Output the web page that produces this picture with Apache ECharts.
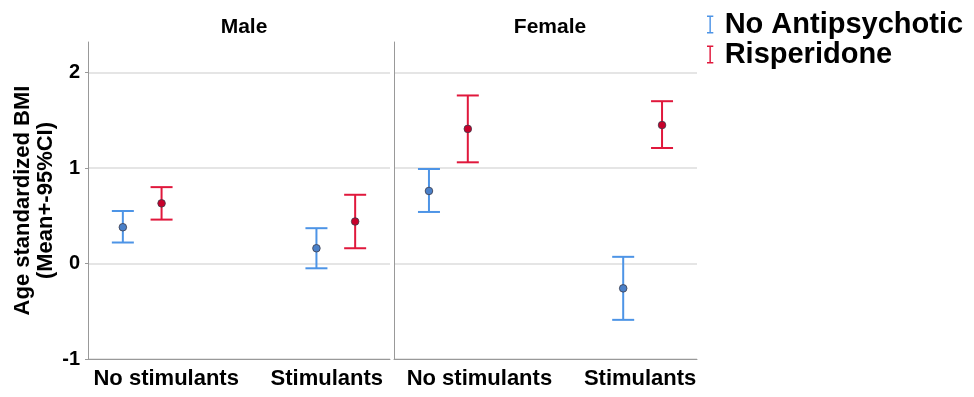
<!DOCTYPE html>
<html>
<head>
<meta charset="utf-8">
<script src="https://cdn.jsdelivr.net/npm/echarts@6/dist/echarts.min.js"></script>
<style>html,body{margin:0;padding:0;background:#fff;}#c{width:974px;height:397px;}</style>
</head>
<body>
<div id="c"></div>
<script>
// ---- data ----
var panels = ['Male', 'Female'];
var categories = ['No stimulants', 'Stimulants'];
var seriesNames = ['No Antipsychotic', 'Risperidone'];
// [mean, lower, upper] per category
var maleNoAnti   = [[0.38, 0.22, 0.55], [0.16, -0.05, 0.37]];
var maleRisp     = [[0.63, 0.46, 0.80], [0.44, 0.16, 0.72]];
var femaleNoAnti = [[0.76, 0.54, 0.99], [-0.26, -0.59, 0.07]];
var femaleRisp   = [[1.41, 1.06, 1.76], [1.45, 1.21, 1.70]];
var yTicks = [-1, 0, 1, 2];

var FONT = 'Liberation Sans, Arial, sans-serif';
var colors = ['#4d94e6', '#e0183c'];
var dotColors = ['#4a80c8', '#c8002a'];
var offset = [-0.1, 0.1];

function toData(arr, si) {
  return arr.map(function (d, i) { return [i + offset[si], d[0], d[1], d[2]]; });
}

function renderItem(si) {
  return function (params, api) {
    var x = api.value(0);
    var m = api.coord([x, api.value(1)]);
    var lo = api.coord([x, api.value(2)]);
    var hi = api.coord([x, api.value(3)]);
    var c = colors[si];
    var w = 11;
    var ls = { stroke: c, lineWidth: 2 };
    return {
      type: 'group',
      children: [
        { type: 'line', shape: { x1: m[0], y1: lo[1], x2: m[0], y2: hi[1] }, style: ls },
        { type: 'line', shape: { x1: m[0] - w, y1: lo[1], x2: m[0] + w, y2: lo[1] }, style: ls },
        { type: 'line', shape: { x1: m[0] - w, y1: hi[1], x2: m[0] + w, y2: hi[1] }, style: ls },
        { type: 'circle', shape: { cx: m[0], cy: m[1], r: 3.8 }, style: { fill: dotColors[si], stroke: '#3a3a4a', lineWidth: 0.8 } }
      ]
    };
  };
}

// label placement tweaks (px padding) per panel: [left padding, right padding] for each category label
function xAxis(gi, pads) {
  var rich = {};
  pads.forEach(function (p, i) {
    rich['l' + i] = { fontSize: 22, fontWeight: 'bold', color: '#000', fontFamily: FONT, padding: [0, p[1], 0, p[0]] };
  });
  return {
    type: 'value', gridIndex: gi, min: -0.28, max: 1.28,
    axisLine: { show: true, onZero: false, lineStyle: { color: '#999', width: 1 } },
    axisTick: { show: false },
    splitLine: { show: false },
    axisLabel: {
      customValues: [0, 1],
      margin: 9,
      formatter: function (v) { var i = Math.round(v); return '{l' + i + '|' + categories[i] + '}'; },
      rich: rich
    }
  };
}

var iconI = 'path://M0,0 H7 V1.6 H4.3 V18.4 H7 V20 H0 V18.4 H2.7 V1.6 H0 Z';

var option = {
  animation: false,
  backgroundColor: '#fff',
  textStyle: { fontFamily: FONT },
  title: [
    { text: panels[0], left: 239, top: 12, textAlign: 'center', textStyle: { fontSize: 21, fontWeight: 'bold', color: '#000', fontFamily: FONT } },
    { text: panels[1], left: 545, top: 12, textAlign: 'center', textStyle: { fontSize: 21, fontWeight: 'bold', color: '#000', fontFamily: FONT } }
  ],
  legend: {
    orient: 'vertical', left: 702, top: 5, itemWidth: 7, itemHeight: 18, itemGap: 1,
    data: [
      { name: seriesNames[0], icon: iconI, itemStyle: { color: colors[0] } },
      { name: seriesNames[1], icon: iconI, itemStyle: { color: colors[1] } }
    ],
    textStyle: { fontSize: 29, fontWeight: 'bold', color: '#000', fontFamily: FONT, lineHeight: 29, padding: [0, 0, 0, 6] }
  },
  grid: [
    { left: 88, top: 42, width: 302, bottom: 38 },
    { left: 394, top: 42, width: 303, bottom: 38 }
  ],
  xAxis: [
    xAxis(0, [[48, 0], [0, 18]]),
    xAxis(1, [[62, 0], [0, 5]])
  ],
  yAxis: [
    {
      type: 'value', gridIndex: 0, min: -1, max: 2.32, interval: 1,
      name: 'Age standardized BMI\n(Mean+-95%CI)',
      nameLocation: 'middle', nameRotate: 90, nameGap: 31,
      nameTextStyle: { fontSize: 22, fontWeight: 'bold', color: '#000', lineHeight: 23, fontFamily: FONT },
      axisLine: { show: true, onZero: false, lineStyle: { color: '#999' } },
      axisTick: { show: true, length: 3, customValues: yTicks, lineStyle: { color: '#999' } },
      splitLine: { show: true, showMaxLine: true, lineStyle: { color: '#ddd', width: 1.5 } },
      axisLabel: {
        fontSize: 20, fontWeight: 'bold', color: '#000', margin: 8, fontFamily: FONT,
        customValues: yTicks,
        formatter: function (v) { return String(v); }
      }
    },
    {
      type: 'value', gridIndex: 1, min: -1, max: 2.32, interval: 1,
      axisLine: { show: true, onZero: false, lineStyle: { color: '#999' } },
      axisTick: { show: false },
      splitLine: { show: true, showMaxLine: false, lineStyle: { color: '#ddd', width: 1.5 } },
      axisLabel: { show: false }
    }
  ],
  series: [
    { name: seriesNames[0], type: 'custom', xAxisIndex: 0, yAxisIndex: 0, renderItem: renderItem(0), data: toData(maleNoAnti, 0), itemStyle: { color: colors[0] } },
    { name: seriesNames[1], type: 'custom', xAxisIndex: 0, yAxisIndex: 0, renderItem: renderItem(1), data: toData(maleRisp, 1), itemStyle: { color: colors[1] } },
    { name: seriesNames[0], type: 'custom', xAxisIndex: 1, yAxisIndex: 1, renderItem: renderItem(0), data: toData(femaleNoAnti, 0), itemStyle: { color: colors[0] } },
    { name: seriesNames[1], type: 'custom', xAxisIndex: 1, yAxisIndex: 1, renderItem: renderItem(1), data: toData(femaleRisp, 1), itemStyle: { color: colors[1] } }
  ]
};

var chart = echarts.init(document.getElementById('c'), null, { renderer: 'canvas' });
chart.setOption(option);
</script>
</body>
</html>
